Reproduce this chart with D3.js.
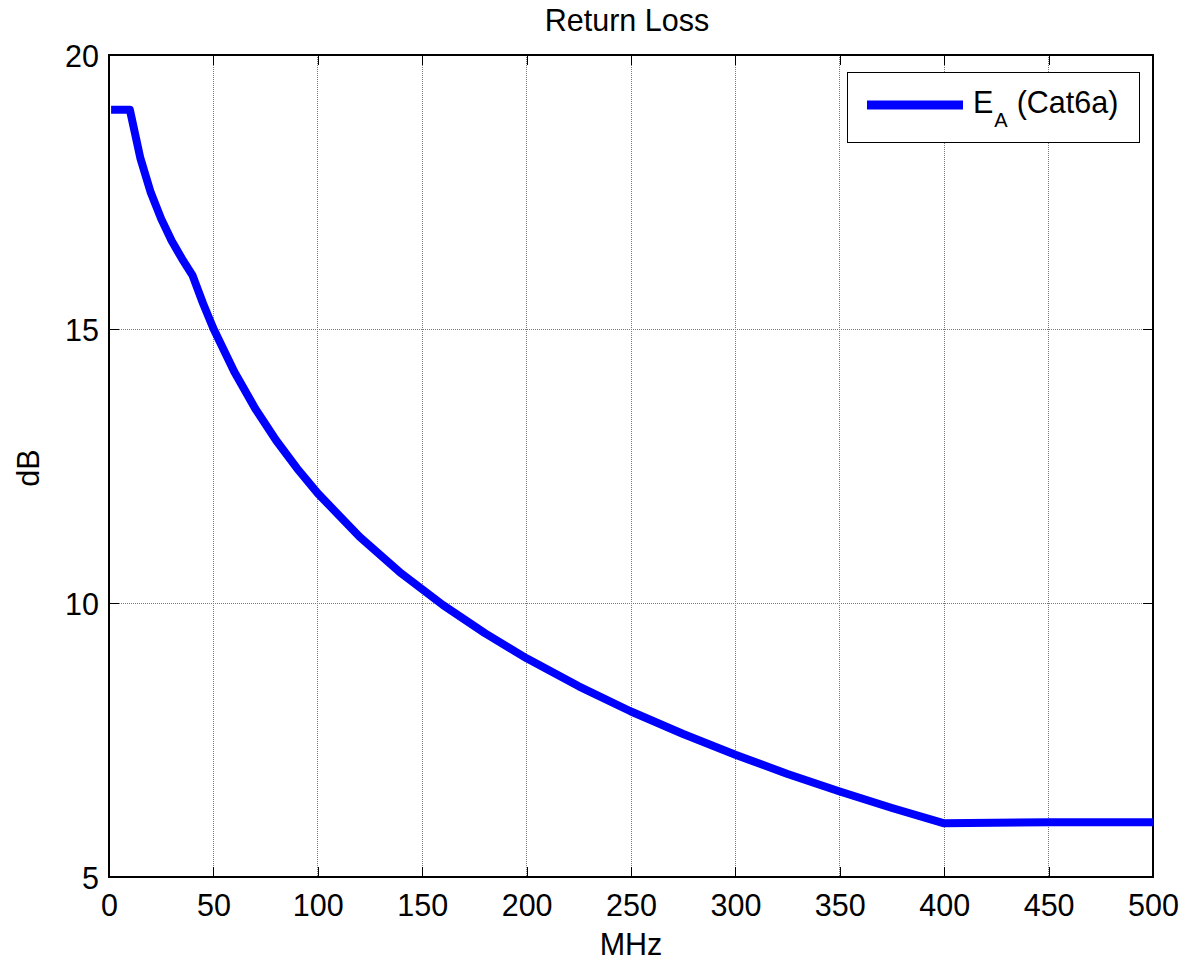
<!DOCTYPE html>
<html>
<head>
<meta charset="utf-8">
<script src="https://cdn.jsdelivr.net/npm/d3@7"></script>
<style>
  html, body { margin: 0; padding: 0; background: #fff; }
  svg { display: block; font-family: "Liberation Sans", Arial, sans-serif; }
</style>
</head>
<body>
<svg id="chart" width="1183" height="963"></svg>
<script>
// Data
const freqMHz = [1, 10, 15, 20, 25, 30, 35, 40, 45, 50, 60, 70, 80, 90, 100, 120, 140, 160, 180, 200, 225, 250, 275, 300, 325, 350, 375, 400, 450, 500];
const returnLossDb = [19, 19, 18.12, 17.49, 17.01, 16.61, 16.28, 15.98, 15.47, 15.01, 14.22, 13.55, 12.97, 12.46, 12.0, 11.21, 10.54, 9.96, 9.45, 8.99, 8.48, 8.02, 7.61, 7.23, 6.88, 6.56, 6.26, 5.98, 6, 6];
const xTicks = [0, 50, 100, 150, 200, 250, 300, 350, 400, 450, 500];
const yTicks = [5, 10, 15, 20];
const titleText = "Return Loss";
const xLabel = "MHz";
const yLabel = "dB";

const svg = d3.select("#chart");
const L = 109, R = 1153, T = 55, B = 877;
const x = d3.scaleLinear().domain([0, 500]).range([L, R]);
const y = d3.scaleLinear().domain([5, 20]).range([B, T]);
const FS = 30.5;

// grid
const grid = svg.append("g");
grid.selectAll("line.gx").data(xTicks.slice(1, -1)).enter().append("line")
  .attr("x1", d => x(d)).attr("x2", d => x(d)).attr("y1", T).attr("y2", B)
  .attr("stroke", "#7a7a7a").attr("stroke-width", 1).attr("stroke-dasharray", "1,1")
  .attr("shape-rendering", "crispEdges");
grid.selectAll("line.gy").data(yTicks.slice(1, -1)).enter().append("line")
  .attr("y1", d => y(d)).attr("y2", d => y(d)).attr("x1", L).attr("x2", R)
  .attr("stroke", "#7a7a7a").attr("stroke-width", 1).attr("stroke-dasharray", "1,1")
  .attr("shape-rendering", "crispEdges");

// axes with inward ticks
const tickLen = 10;
const axB = svg.append("g").attr("transform", `translate(0,${B})`)
  .call(d3.axisBottom(x).tickValues(xTicks).tickSize(-tickLen).tickPadding(0).tickFormat(d3.format("d")));
const axT = svg.append("g").attr("transform", `translate(0,${T})`)
  .call(d3.axisTop(x).tickValues(xTicks).tickSize(-tickLen).tickFormat(""));
const axL = svg.append("g").attr("transform", `translate(${L},0)`)
  .call(d3.axisLeft(y).tickValues(yTicks).tickSize(-tickLen).tickFormat(d3.format("d")));
const axR = svg.append("g").attr("transform", `translate(${R},0)`)
  .call(d3.axisRight(y).tickValues(yTicks).tickSize(-tickLen).tickFormat(""));
[axB, axT, axL, axR].forEach(a => {
  a.select(".domain").remove();
  a.selectAll(".tick line").attr("stroke", "#000").attr("shape-rendering", "crispEdges");
});
axB.selectAll(".tick text").attr("font-size", FS).attr("fill", "#000")
  .attr("font-family", "Liberation Sans, Arial, sans-serif")
  .attr("dy", null).attr("y", 39);
axL.selectAll(".tick text").attr("font-size", FS).attr("fill", "#000")
  .attr("font-family", "Liberation Sans, Arial, sans-serif")
  .attr("x", -10).attr("dy", "0.38em");

// box
svg.append("rect").attr("x", L).attr("y", T).attr("width", R - L).attr("height", B - T)
  .attr("fill", "none").attr("stroke", "#000").attr("stroke-width", 1.2)
  .attr("shape-rendering", "crispEdges");

// curve
const line = d3.line().x((d, i) => x(freqMHz[i])).y(d => y(d));
svg.append("path").datum(returnLossDb)
  .attr("d", line).attr("fill", "none").attr("stroke", "#0000ff")
  .attr("stroke-width", 8).attr("stroke-linejoin", "round").attr("stroke-linecap", "butt");

// title and labels
svg.append("text").attr("x", 627).attr("y", 31).attr("text-anchor", "middle")
  .attr("font-size", FS).text(titleText);
svg.append("text").attr("x", (L + R) / 2).attr("y", 955).attr("text-anchor", "middle")
  .attr("font-size", FS).text(xLabel);
svg.append("text").attr("transform", "translate(39,468) rotate(-90)").attr("text-anchor", "middle")
  .attr("font-size", FS).text(yLabel);

// legend
const lg = svg.append("g");
lg.append("rect").attr("x", 847).attr("y", 72).attr("width", 292).attr("height", 70)
  .attr("fill", "#fff").attr("stroke", "#000").attr("stroke-width", 1)
  .attr("shape-rendering", "crispEdges");
lg.append("line").attr("x1", 867).attr("x2", 963).attr("y1", 105).attr("y2", 105)
  .attr("stroke", "#0000ff").attr("stroke-width", 9);
const lt = lg.append("text").attr("x", 973).attr("y", 113).attr("font-size", FS);
lt.append("tspan").text("E");
lt.append("tspan").attr("font-size", 20).attr("dx", 1).attr("dy", 14).text("A");
lt.append("tspan").attr("dy", -14).attr("dx", 9).text("(Cat6a)");
</script>
</body>
</html>
